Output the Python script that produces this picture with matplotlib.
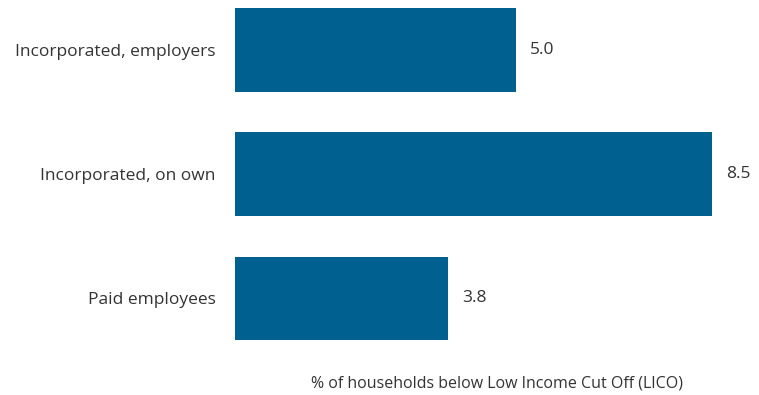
import matplotlib.pyplot as plt

plt.rcParams['font.family'] = ['Open Sans', 'DejaVu Sans']

categories = ["Incorporated, employers", "Incorporated, on own", "Paid employees"]
values = [5.0, 8.5, 3.8]
value_labels = ["5.0", "8.5", "3.8"]
bar_color = "#00608F"
text_color = "#333333"


def plot():
    fig = plt.figure(figsize=(7.59, 3.95), dpi=100)
    ax = fig.add_axes([235 / 759, 1 - 350 / 395, 524 / 759, 350 / 395])

    pos = list(range(len(categories)))
    ax.barh(pos, values, height=0.675, color=bar_color)
    ax.set_ylim(2 + 51.5 / 124.25, -50 / 124.25)
    ax.set_xlim(0, 524 / 56.1)

    for p, v, lab in zip(pos, values, value_labels):
        ax.annotate(lab, (v, p), xytext=(10, 0), textcoords="offset points",
                    va="center", ha="left", fontsize=12.5, color=text_color)

    ax.set_yticks(pos)
    ax.set_yticklabels(categories, fontsize=12.5, color=text_color)
    ax.tick_params(axis="y", length=0, pad=14)
    ax.set_xticks([])
    for s in ax.spines.values():
        s.set_visible(False)

    fig.text(497 / 759, 1 - 383 / 395, "% of households below Low Income Cut Off (LICO)",
             ha="center", va="center", fontsize=11.5, color=text_color)

    fig.savefig("out.png", dpi=100)


if __name__ == '__main__':
    plot()
